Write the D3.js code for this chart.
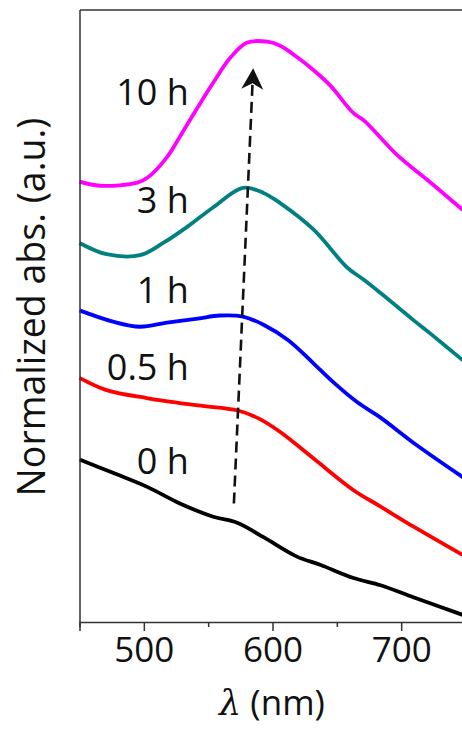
<!DOCTYPE html>
<html>
<head>
<meta charset="utf-8">
<script src="https://cdn.jsdelivr.net/npm/d3@7"></script>
<style>
  html, body { margin: 0; padding: 0; background: #fff; }
  svg { display: block; font-family: "Open Sans", "Noto Sans", sans-serif; }
</style>
</head>
<body>
<div id="chart"></div>
<script>
// wavelength (nm) and normalized absorbance (a.u., stacked with offsets)
const wl0  = [450, 476, 503, 528, 554, 573, 593, 619, 637, 663, 684, 710, 750];
const abs0 = [1.59, 1.46, 1.32, 1.16, 1.03, 0.97, 0.83, 0.64, 0.56, 0.43, 0.36, 0.24, 0.06];

const wl05  = [450, 471, 503, 542, 573, 588, 606, 632, 663, 684, 710, 750];
const abs05 = [2.39, 2.27, 2.19, 2.12, 2.07, 2.00, 1.86, 1.60, 1.29, 1.13, 0.93, 0.64];

const wl1  = [450, 476, 497, 518, 542, 559, 577, 593, 612, 632, 647, 666, 684, 710, 750];
const abs1 = [3.05, 2.94, 2.89, 2.93, 2.97, 3.00, 2.99, 2.91, 2.76, 2.53, 2.35, 2.15, 2.00, 1.75, 1.40];

const wl3  = [450, 471, 497, 515, 534, 554, 577, 593, 606, 632, 658, 671, 684, 710, 723, 750];
const abs3 = [3.71, 3.60, 3.59, 3.71, 3.87, 4.06, 4.25, 4.20, 4.10, 3.84, 3.47, 3.35, 3.22, 2.95, 2.82, 2.54];

const wl10  = [450, 466, 495, 503, 518, 528, 542, 554, 567, 580, 596, 606, 619, 632, 645, 663, 671, 697, 723, 750];
const abs10 = [4.31, 4.27, 4.30, 4.35, 4.55, 4.75, 5.04, 5.28, 5.52, 5.67, 5.68, 5.64, 5.53, 5.40, 5.25, 4.98, 4.91, 4.57, 4.30, 4.01];

const seriesNames  = ["0 h", "0.5 h", "1 h", "3 h", "10 h"];
const seriesColors = ["#000000", "#ff0000", "#0000ff", "#008080", "#ff00ff"];
const labelY       = [1.45, 2.37, 3.12, 4.00, 5.06];  // label baselines (a.u.)
const labelX       = 535;                              // label right edge (nm)

const xMajor = [500, 600, 700];
const xMinor = [450, 550, 650, 750];

// dashed arrow: start and tip (nm, a.u.)
const arrowFrom = [570, 1.16];
const arrowTo   = [585, 5.42];

const series = seriesNames.map((name, i) => {
  const w = [wl0, wl05, wl1, wl3, wl10][i];
  const a = [abs0, abs05, abs1, abs3, abs10][i];
  return { name, color: seriesColors[i], values: w.map((d, j) => ({ wl: d, a: a[j] })) };
});

// sizing
const W = 462, H = 730;
const plotLeft = 80, plotTop = 10, plotBottom = 622;

const svg = d3.select("#chart").append("svg").attr("width", W).attr("height", H);

const x = d3.scaleLinear().domain([450, 750]).range([79.5, 465.5]);
const y = d3.scaleLinear().domain([0, 6]).range([622, 9]);

// lines
const line = d3.line().x(d => x(d.wl)).y(d => y(d.a)).curve(d3.curveCatmullRom.alpha(0.5));
svg.append("g").selectAll("path").data(series).join("path")
  .attr("fill", "none")
  .attr("stroke", d => d.color)
  .attr("stroke-width", 3.8)
  .attr("stroke-linejoin", "round")
  .attr("d", d => line(d.values));

// frame
svg.append("line").attr("x1", plotLeft).attr("x2", W).attr("y1", plotTop).attr("y2", plotTop)
  .attr("stroke", "#333").attr("stroke-width", 1.5);
svg.append("line").attr("x1", plotLeft).attr("x2", plotLeft).attr("y1", plotTop).attr("y2", plotBottom)
  .attr("stroke", "#333").attr("stroke-width", 1.5);

// x axis
const xAxisG = svg.append("g").attr("transform", `translate(0,${plotBottom})`);
xAxisG.call(d3.axisBottom(x).tickValues(xMajor).tickSize(9).tickPadding(6).tickFormat(d3.format("d")));
xAxisG.select(".domain").attr("stroke", "#333").attr("stroke-width", 1.5);
xAxisG.selectAll(".tick line").attr("stroke", "#333").attr("stroke-width", 1.5);
xAxisG.selectAll(".tick text").attr("font-size", 35).attr("fill", "#111")
  .attr("font-family", "'Open Sans', sans-serif");

const xMinorG = svg.append("g").attr("transform", `translate(0,${plotBottom})`);
xMinorG.call(d3.axisBottom(x).tickValues(xMinor).tickSize(5).tickFormat(""));
xMinorG.select(".domain").remove();
xMinorG.selectAll(".tick line").attr("stroke", "#333").attr("stroke-width", 1.5);

// axis titles
const xt = svg.append("text").attr("x", 272).attr("y", 715)
  .attr("text-anchor", "middle").attr("font-size", 35).attr("fill", "#111");
xt.append("tspan").attr("font-style", "italic").attr("font-family", "'DejaVu Serif', serif").text("λ");
xt.append("tspan").text(" (nm)");

svg.append("text")
  .attr("transform", "translate(45,307) rotate(-90)")
  .attr("text-anchor", "middle").attr("font-size", 37.5).attr("fill", "#111")
  .text("Normalized abs. (a.u.)");

// series labels
svg.append("g").selectAll("text").data(series).join("text")
  .attr("x", x(labelX)).attr("y", (d, i) => y(labelY[i]))
  .attr("text-anchor", "end").attr("font-size", 36).attr("fill", "#111")
  .text(d => d.name);

// dashed arrow
const p0 = [x(arrowFrom[0]), y(arrowFrom[1])];
const p1 = [x(arrowTo[0]), y(arrowTo[1])];
const ang = Math.atan2(p1[1] - p0[1], p1[0] - p0[0]);
const headLen = 21, headW = 11, notch = 6;
const ux = Math.cos(ang), uy = Math.sin(ang);
const bx = p1[0] - ux * headLen, by = p1[1] - uy * headLen;
svg.append("line")
  .attr("x1", p0[0]).attr("y1", p0[1])
  .attr("x2", p1[0] - ux * (headLen - notch)).attr("y2", p1[1] - uy * (headLen - notch))
  .attr("stroke", "#111").attr("stroke-width", 2.6).attr("stroke-dasharray", "11,6");
svg.append("path")
  .attr("d", `M${p1[0]},${p1[1]}`
    + `L${bx - uy * headW},${by + ux * headW}`
    + `L${p1[0] - ux * (headLen - notch)},${p1[1] - uy * (headLen - notch)}`
    + `L${bx + uy * headW},${by - ux * headW}Z`)
  .attr("fill", "#111");
</script>
</body>
</html>
